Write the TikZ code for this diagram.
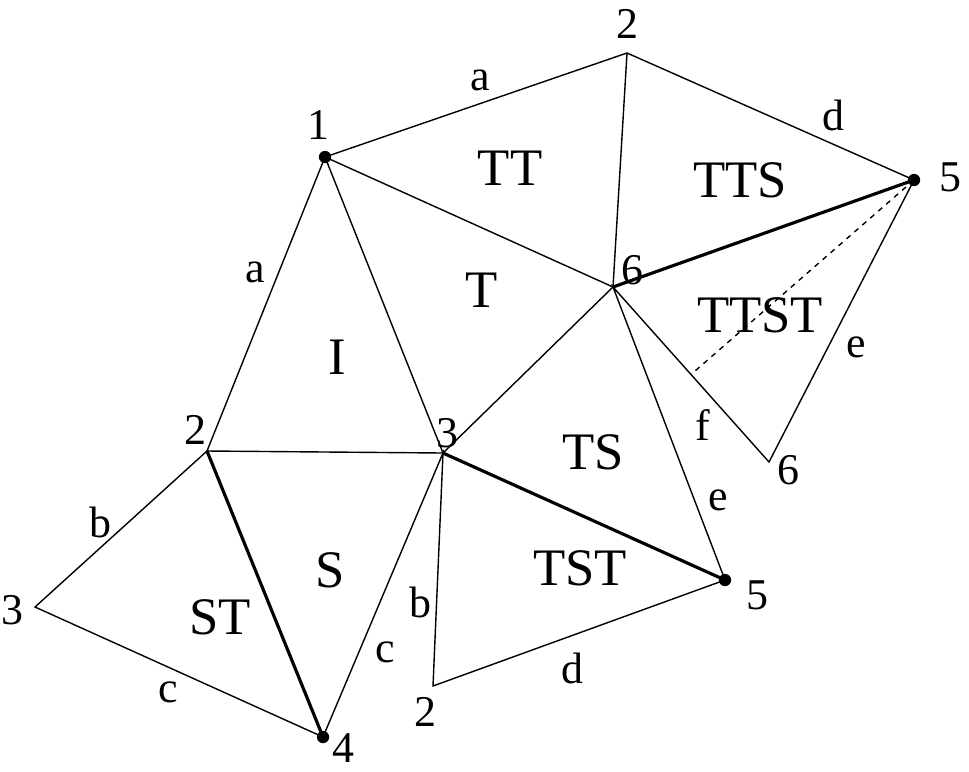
\documentclass[tikz,border=0pt]{standalone}
\usepackage{fontspec}
\setmainfont{Liberation Serif}
\usetikzlibrary{positioning, calc}
\tikzset{
    edge/.style={line width=0.8pt},
    fold/.style={line width=1.8pt},
    lbl/.style={font=\fontsize{25}{30}\selectfont, inner sep=0pt},
    face/.style={font=\fontsize{30}{36}\selectfont, inner sep=0pt},
    dot/.style={circle, fill, inner sep=0pt, minimum size=7pt}
}
\begin{document}
\begin{tikzpicture}[x=0.02cm, y=-0.02cm]
        \useasboundingbox (0,0) rectangle (969,771);
        % Vertices
        \coordinate (v1) at (325,157);
        \coordinate (v2a) at (627,53);
        \coordinate (v5a) at (914,180);
        \coordinate (v6a) at (613,287);
        \coordinate (v3a) at (443,453);
        \coordinate (v2b) at (207,451);
        \coordinate (v3b) at (35,607);
        \coordinate (v4) at (323,737);
        \coordinate (v2c) at (433,686);
        \coordinate (v5b) at (725,580);
        \coordinate (v6b) at (769,462);
        \coordinate (mid) at ($(v6a)!0.5!(v6b)$);

        % Edges
        \draw[edge] (v1) -- (v2a) -- (v5a);
        \draw[edge] (v1) -- (v6a) -- (v2a);
        \draw[edge] (v1) -- (v2b) -- (v3a) -- (v1);
        \draw[edge] (v6a) -- (v3a);
        \draw[edge] (v2b) -- (v3b) -- (v4) -- (v3a) -- (v2c) -- (v5b) -- (v6a) -- (v6b) -- (v5a);
        \draw[edge, dashed] (v5a) -- (mid);

        % Folds
        \draw[fold] (v6a) -- (v5a);
        \draw[fold] (v2b) -- (v4);
        \draw[fold] (v3a) -- (v5b);

        \node[dot] (d1) at (v1) {};
        \node[dot] (d5a) at (v5a) {};
        \node[dot] (d5b) at (v5b) {};
        \node[dot] (d4) at (v4) {};

        % Faces
        \node[face] (fTT) at (510,168) {TT};
        \node[face] (fTTS) at (740,180) {TTS};
        \node[face] (fT) at (482,290) {T};
        \node[face] (fTTST) at (760,315) {TTST};
        \node[face] (fI) at (337,357) {I};
        \node[face] (fTS) at (593,452) {TS};
        \node[face] (fTST) at (580,568) {TST};
        \node[face] (fS) at (330,570) {S};
        \node[face] (fST) at (220,617) {ST};

        % Edge letters
        \node[lbl] (ea1) at (480,80) {a};
        \node[lbl] (ed1) at (833,115) {d};
        \node[lbl] (ee1) at (856,347) {e};
        \node[lbl] (ea2) at (255,272) {a};
        \node[lbl] (ef) at (703,425) {f};
        \node[lbl] (ee2) at (718,500) {e};
        \node[lbl] (eb1) at (100,522) {b};
        \node[lbl] (eb2) at (420,602) {b};
        \node[lbl] (ec1) at (385,652) {c};
        \node[lbl] (ec2) at (168,692) {c};
        \node[lbl] (ed2) at (572,668) {d};

        % Vertex numbers
        \node[lbl] (n2a) at (627,24) {2};
        \node[lbl] (n1) at (318,125) {1};
        \node[lbl] (n5a) at (950,177) {5};
        \node[lbl] (n6a) at (632,270) {6};
        \node[lbl] (n3a) at (447,433) {3};
        \node[lbl] (n2b) at (195,430) {2};
        \node[lbl] (n6b) at (788,470) {6};
        \node[lbl] (n5b) at (757,595) {5};
        \node[lbl] (n3b) at (12,610) {3};
        \node[lbl] (n2c) at (425,712) {2};
        \node[lbl] (n4) at (343,748) {4};
\end{tikzpicture}
\end{document}
